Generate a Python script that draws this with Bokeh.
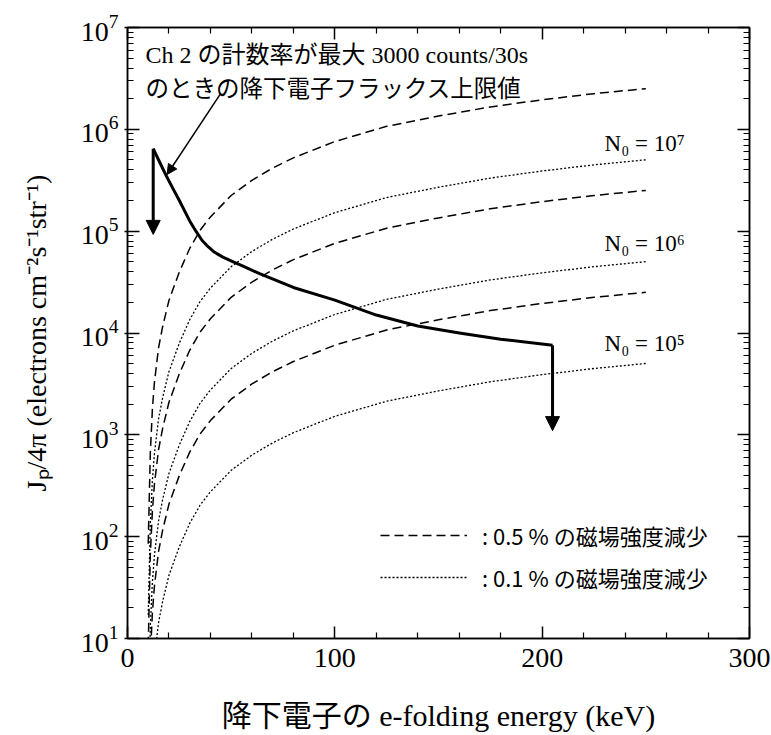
from bokeh.plotting import figure
from bokeh.models import (Range1d, LogAxis, LinearAxis, FixedTicker,
                          Arrow, NormalHead, Label, Legend, LegendItem)
from bokeh.embed import file_html
from bokeh.resources import INLINE

# ---------------- data ----------------
energy = [10, 11, 12, 13, 15, 17, 20, 25, 30, 35, 40, 50, 60, 70, 80, 100, 125, 150, 175, 200, 225, 250]

# 0.5 % decrease (dashed)
dash_n7 = [85, 660, 1780, 3300, 7200, 11700, 20900, 39800, 67600, 102000, 138000, 224000, 316000,
           417000, 525000, 759000, 1.07e6, 1.35e6, 1.66e6, 1.95e6, 2.24e6, 2.51e6]
dash_n6 = [8.5, 66, 178, 330, 720, 1170, 2090, 3980, 6760, 10200, 13800, 22400, 31600,
           41700, 52500, 75900, 107000, 135000, 166000, 195000, 224000, 251000]
dash_n5 = [0.85, 6.6, 17.8, 33, 72, 117, 209, 398, 676, 1020, 1380, 2240, 3160,
           4170, 5250, 7590, 10700, 13500, 16600, 19500, 22400, 25100]
# 0.1 % decrease (dotted)
dot_n7 = [17, 132, 356, 660, 1440, 2340, 4180, 7960, 13500, 20400, 27600, 44800, 63200,
          83400, 105000, 152000, 214000, 270000, 332000, 390000, 448000, 502000]
dot_n6 = [1.7, 13.2, 35.6, 66, 144, 234, 418, 796, 1350, 2040, 2760, 4480, 6320,
          8340, 10500, 15200, 21400, 27000, 33200, 39000, 44800, 50200]
dot_n5 = [0.17, 1.32, 3.56, 6.6, 14.4, 23.4, 41.8, 79.6, 135, 204, 276, 448, 632,
          834, 1050, 1520, 2140, 2700, 3320, 3900, 4480, 5020]

# upper limit of precipitating electron flux (Ch 2 max 3000 counts/30s)
limit_energy = [12.4, 15, 19, 22, 25, 30, 33, 36, 39, 42, 46, 51, 56, 64, 80, 100, 120, 140,
                160, 180, 205]
limit_flux = [6.46e5, 5.0e5, 3.4e5, 2.6e5, 2.0e5, 1.26e5, 1.0e5, 8.1e4, 7.0e4, 6.2e4, 5.56e4,
              5.0e4, 4.5e4, 3.8e4, 2.8e4, 2.1e4, 1.5e4, 1.17e4, 1.0e4, 8.7e3, 7.6e3]
arrow_tip_flux = [9.3e4, 1.1e3]

x_ticks = [0, 100, 200, 300]
x_minor = [20, 40, 60, 80, 120, 140, 160, 180, 220, 240, 260, 280]
y_major = [1e1, 1e2, 1e3, 1e4, 1e5, 1e6, 1e7]
y_minor = [m * d for d in y_major[:-1] for m in range(2, 10)]

legend_labels = [": 0.5 % の磁場強度減少", ": 0.1 % の磁場強度減少"]
n0_labels = ["N₀ = 10⁷", "N₀ = 10⁶", "N₀ = 10⁵"]
note_lines = ["Ch 2 の計数率が最大 3000 counts/30s", "のときの降下電子フラックス上限値"]

SERIF = "Liberation Serif, Noto Sans CJK JP"
CJK = "Noto Sans CJK JP"

# ---------------- figure ----------------
p = figure(width=771, height=735, x_range=Range1d(0, 300), y_range=Range1d(10, 1e7),
           y_axis_type="log", output_backend="svg", toolbar_location=None,
           min_border_left=127, min_border_right=22, min_border_top=27, min_border_bottom=97)
p.background_fill_color = "white"
p.border_fill_color = "white"
p.xgrid.visible = False
p.ygrid.visible = False
p.outline_line_color = "black"
p.outline_line_width = 1.5

p.xaxis.ticker = FixedTicker(ticks=x_ticks, minor_ticks=x_minor)
p.yaxis.ticker = FixedTicker(ticks=y_major, minor_ticks=y_minor)

right_axis = LogAxis(ticker=FixedTicker(ticks=y_major, minor_ticks=y_minor),
                     major_label_overrides={t: " " for t in y_major})
top_axis = LinearAxis(ticker=FixedTicker(ticks=x_ticks, minor_ticks=x_minor),
                      major_label_overrides={t: " " for t in x_ticks})
p.add_layout(right_axis, "right")
p.add_layout(top_axis, "above")

for ax in p.axis:
    ax.major_tick_in = 12
    ax.major_tick_out = 0
    ax.minor_tick_in = 6
    ax.minor_tick_out = 0
    ax.axis_line_color = "black"
    ax.axis_line_width = 1.5
    ax.major_tick_line_color = "black"
    ax.major_tick_line_width = 1.5
    ax.minor_tick_line_color = "black"
    ax.minor_tick_line_width = 1.2
    ax.major_label_text_font = "Liberation Serif"
    ax.major_label_text_font_size = "28px"
    ax.major_label_text_color = "black"

for ax in (right_axis, top_axis):
    ax.major_label_text_font_size = "2px"
    ax.major_label_text_alpha = 0
    ax.major_label_standoff = 0

xa = p.below[0]
ya = p.left[0]
ya.major_tick_out = 3
xa.major_label_standoff = 10
ya.major_label_standoff = 6
xa.axis_label = "降下電子の e-folding energy (keV)"
ya.axis_label = "Jₚ/4π (electrons cm⁻²s⁻¹str⁻¹)"
for ax in (xa, ya):
    ax.axis_label_text_font = SERIF
    ax.axis_label_text_font_style = "normal"
    ax.axis_label_text_color = "black"
xa.axis_label_text_font_size = "30px"
ya.axis_label_text_font_size = "28px"
xa.axis_label_standoff = 29
ya.axis_label_standoff = 26

# ---------------- curves ----------------
DASH = "9 5"
DOT = "2 2"
r_d7 = p.line(energy, dash_n7, line_color="black", line_width=1.5, line_dash=DASH)
p.line(energy, dash_n6, line_color="black", line_width=1.5, line_dash=DASH)
p.line(energy, dash_n5, line_color="black", line_width=1.5, line_dash=DASH)
r_o7 = p.line(energy, dot_n7, line_color="black", line_width=1.3, line_dash=DOT)
p.line(energy, dot_n6, line_color="black", line_width=1.3, line_dash=DOT)
p.line(energy, dot_n5, line_color="black", line_width=1.3, line_dash=DOT)

p.line(limit_energy, limit_flux, line_color="black", line_width=3, line_join="round")

# downward arrows at both ends of the limit curve
p.add_layout(Arrow(end=NormalHead(size=14, fill_color="black", line_color="black"),
                   x_start=limit_energy[0], y_start=limit_flux[0],
                   x_end=limit_energy[0], y_end=arrow_tip_flux[0],
                   line_color="black", line_width=3))
p.add_layout(Arrow(end=NormalHead(size=14, fill_color="black", line_color="black"),
                   x_start=limit_energy[-1], y_start=limit_flux[-1],
                   x_end=limit_energy[-1], y_end=arrow_tip_flux[-1],
                   line_color="black", line_width=3))

# pointer from the note to the limit curve
p.add_layout(Arrow(end=NormalHead(size=10, fill_color="black", line_color="black"),
                   x_start=44.9, y_start=2.24e6, x_end=19.1, y_end=3.6e5,
                   line_color="black", line_width=1.5))

# note text
p.add_layout(Label(x=8.7, y=5.31e6, text=note_lines[0], text_font=SERIF,
                   text_font_size="24px", text_baseline="middle", text_color="black"))
p.add_layout(Label(x=8.7, y=2.63e6, text=note_lines[1], text_font=CJK,
                   text_font_size="23.5px", text_baseline="middle", text_color="black"))

# N0 labels
for txt, yv in zip(n0_labels, [7.2e5, 7.5e4, 7.8e3]):
    p.add_layout(Label(x=230.1, y=yv, text=txt, text_font="Liberation Serif, DejaVu Serif",
                       text_font_size="23px", text_baseline="alphabetic", text_color="black"))

# legend
legend = Legend(items=[LegendItem(label=legend_labels[0], renderers=[r_d7]),
                       LegendItem(label=legend_labels[1], renderers=[r_o7])],
                location=(253, 45), glyph_width=87, glyph_height=32, label_height=32,
                spacing=10, padding=0, margin=0, border_line_color=None,
                background_fill_alpha=0, label_text_font=CJK,
                label_text_font_size="22px", label_standoff=15, label_text_color="black")
p.add_layout(legend)

open("out.html", "w").write(file_html(p, INLINE))
